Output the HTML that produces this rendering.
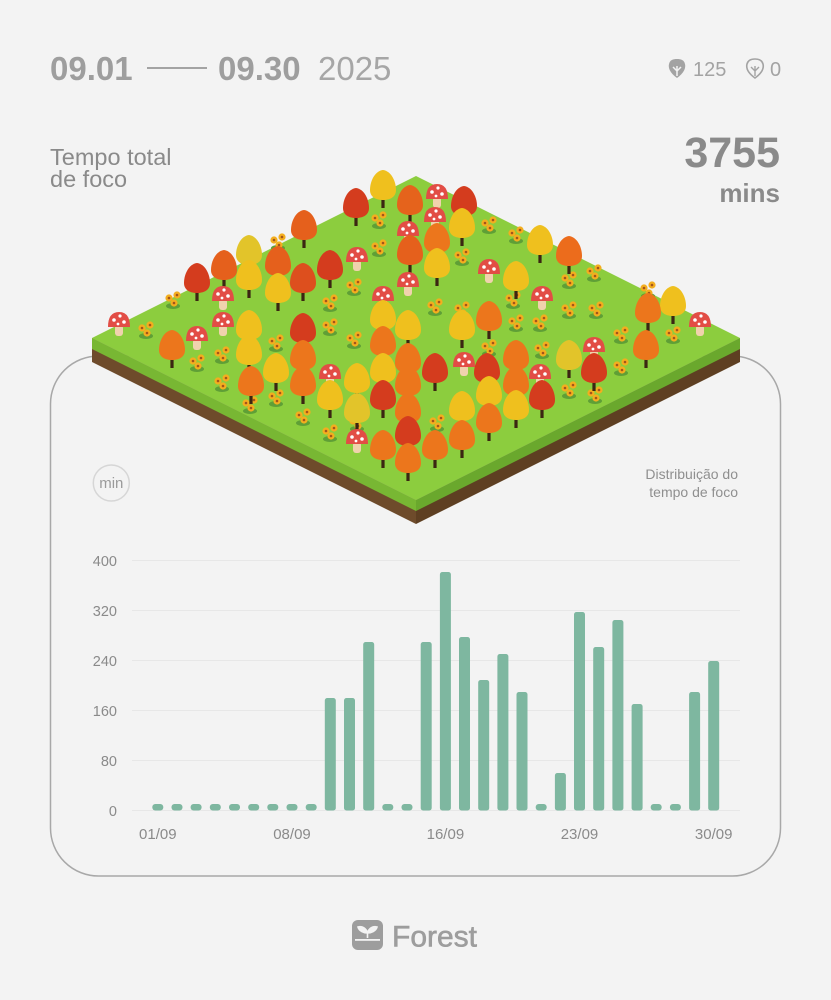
<!DOCTYPE html>
<html>
<head>
<meta charset="utf-8">
<style>
  html,body{margin:0;padding:0;background:#f3f3f3;}
  body{width:831px;height:1000px;overflow:hidden;}
  svg{display:block;font-family:"Liberation Sans", sans-serif;}
</style>
</head>
<body>
<svg width="831" height="1000" viewBox="0 0 831 1000" xmlns="http://www.w3.org/2000/svg">
  <defs>
    <g id="t">
      <rect x="-1.6" y="6" width="3.2" height="15" fill="#3b2612"/>
      <path d="M0,-17 C8,-16 13,-6 13,3 C13,10 7,13 0,13 C-7,13 -13,10 -13,3 C-13,-6 -8,-16 0,-17Z" fill="currentColor"/>
    </g>
    <g id="m">
      <rect x="-4" y="2" width="8" height="11" rx="3" fill="#f0d2ad"/>
      <path d="M-11,4 Q-11,-11 0,-11 Q11,-11 11,4 Z" fill="#e24d45"/>
      <circle cx="-5" cy="-3" r="1.8" fill="#fff"/>
      <circle cx="1" cy="-7" r="1.6" fill="#fff"/>
      <circle cx="5" cy="-1" r="1.8" fill="#fff"/>
      <circle cx="-1" cy="1" r="1.4" fill="#fff"/>
    </g>
    <g id="s">
      <ellipse cx="0" cy="6" rx="7" ry="3" fill="#5f9f36"/>
      <circle cx="-4" cy="-2" r="3.6" fill="#f3ae1f"/>
      <circle cx="4" cy="-5" r="3.6" fill="#f3ae1f"/>
      <circle cx="1" cy="3" r="3.6" fill="#f3ae1f"/>
      <circle cx="-4" cy="-2" r="1.3" fill="#a4541b"/>
      <circle cx="4" cy="-5" r="1.3" fill="#a4541b"/>
      <circle cx="1" cy="3" r="1.3" fill="#a4541b"/>
    </g>
  </defs>

  <!-- Header -->
  <text x="50" y="80" font-size="33" font-weight="bold" fill="#9e9e9e">09.01</text>
  <line x1="147" y1="68" x2="207" y2="68" stroke="#a3a3a3" stroke-width="2"/>
  <text x="218" y="80" font-size="33" font-weight="bold" fill="#9e9e9e">09.30</text>
  <text x="318" y="80" font-size="33" fill="#a6a6a6">2025</text>

  <!-- icons -->
  <path d="M677,78 C670,73 668,68 669,64 C670,60 673,59 677,59 C681,59 684,60 685,64 C686,68 684,73 677,78Z" fill="#a3a3a3"/>
  <path d="M677,76 L677,66 M677,71 L673,67 M677,71 L681,67" stroke="#f3f3f3" stroke-width="1.5" fill="none"/>
  <text x="693" y="76" font-size="20" fill="#a3a3a3">125</text>
  <path d="M755,78 C748,73 746,68 747,64 C748,60 751,59 755,59 C759,59 762,60 763,64 C764,68 762,73 755,78Z" fill="none" stroke="#a3a3a3" stroke-width="1.6"/>
  <path d="M755,76 L755,66 M755,71 L751,67 M755,71 L759,67" stroke="#a3a3a3" stroke-width="1.4" fill="none"/>
  <text x="770" y="76" font-size="20" fill="#a3a3a3">0</text>

  <text x="50" y="165" font-size="23.5" fill="#8a8a8a">Tempo total</text>
  <text x="50" y="187" font-size="23.5" fill="#8a8a8a">de foco</text>

  <text x="780" y="167" font-size="43" font-weight="bold" fill="#8a8a8a" text-anchor="end">3755</text>
  <text x="780" y="202" font-size="26" font-weight="bold" fill="#8a8a8a" text-anchor="end">mins</text>

  <!-- Card -->
  <rect x="50.5" y="356" width="730" height="520" rx="48" ry="48" fill="none" stroke="#a8a8a8" stroke-width="1.5"/>

  <!-- Island -->
  <polygon points="92,338 416,500 416,524 92,362" fill="#6e4b2b"/>
  <polygon points="416,500 740,338 740,362 416,524" fill="#5e3f22"/>
  <polygon points="92,338 416,500 416,511 92,349" fill="#78b733"/>
  <polygon points="416,500 740,338 740,349 416,511" fill="#6aa82d"/>
  <polygon points="92,338 416,176 740,338 416,500" fill="#8ccd3e"/>

  <!-- sunflowers -->
  <use href="#s" x="379" y="220"/><use href="#s" x="489" y="225"/><use href="#s" x="516" y="235"/>
  <use href="#s" x="379" y="248"/><use href="#s" x="462" y="257"/><use href="#s" x="278" y="242"/>
  <use href="#s" x="173" y="300"/><use href="#s" x="354" y="287"/><use href="#s" x="330" y="303"/>
  <use href="#s" x="569" y="280"/><use href="#s" x="594" y="273"/><use href="#s" x="648" y="290"/>
  <use href="#s" x="621" y="335"/><use href="#s" x="569" y="310"/><use href="#s" x="596" y="310"/>
  <use href="#s" x="435" y="307"/><use href="#s" x="540" y="323"/><use href="#s" x="516" y="323"/>
  <use href="#s" x="354" y="340"/><use href="#s" x="330" y="327"/><use href="#s" x="276" y="343"/>
  <use href="#s" x="197" y="363"/><use href="#s" x="222" y="355"/><use href="#s" x="222" y="383"/>
  <use href="#s" x="276" y="398"/><use href="#s" x="303" y="417"/><use href="#s" x="330" y="433"/>
  <use href="#s" x="357" y="423"/><use href="#s" x="437" y="423"/><use href="#s" x="569" y="390"/>
  <use href="#s" x="542" y="350"/><use href="#s" x="621" y="367"/><use href="#s" x="489" y="348"/>
  <use href="#s" x="462" y="310"/><use href="#s" x="673" y="335"/><use href="#s" x="513" y="300"/>
  <use href="#s" x="146" y="330"/><use href="#s" x="250" y="405"/><use href="#s" x="595" y="395"/>

  <!-- trees & mushrooms (sorted by y) -->
  <g>
    <use href="#t" x="383" y="187" color="#efc01e"/>
    <use href="#m" x="437" y="195"/>
    <use href="#t" x="410" y="202" color="#e5631c"/>
    <use href="#t" x="464" y="203" color="#d43c1e"/>
    <use href="#t" x="356" y="205" color="#d43c1e"/>
    <use href="#m" x="435" y="218"/>
    <use href="#t" x="462" y="225" color="#efc01e"/>
    <use href="#t" x="304" y="227" color="#e5601c"/>
    <use href="#m" x="408" y="232"/>
    <use href="#t" x="437" y="240" color="#ec761c"/>
    <use href="#t" x="540" y="242" color="#efc01e"/>
    <use href="#t" x="410" y="252" color="#e5601c"/>
    <use href="#t" x="249" y="252" color="#e2c42a"/>
    <use href="#t" x="569" y="253" color="#ec6c1c"/>
    <use href="#m" x="357" y="258"/>
    <use href="#t" x="278" y="263" color="#e5601c"/>
    <use href="#t" x="437" y="265" color="#efc01e"/>
    <use href="#t" x="330" y="267" color="#d43c1e"/>
    <use href="#t" x="224" y="267" color="#e5601c"/>
    <use href="#m" x="489" y="270"/>
    <use href="#t" x="249" y="277" color="#efc01e"/>
    <use href="#t" x="516" y="278" color="#efc01e"/>
    <use href="#t" x="197" y="280" color="#d43c1e"/>
    <use href="#t" x="303" y="280" color="#dd4f1e"/>
    <use href="#m" x="408" y="283"/>
    <use href="#t" x="278" y="290" color="#efc01e"/>
    <use href="#m" x="223" y="297"/>
    <use href="#m" x="383" y="297"/>
    <use href="#m" x="542" y="297"/>
    <use href="#t" x="673" y="303" color="#efc01e"/>
    <use href="#t" x="648" y="310" color="#ec761c"/>
    <use href="#t" x="383" y="317" color="#efc01e"/>
    <use href="#t" x="489" y="318" color="#ec761c"/>
    <use href="#m" x="119" y="323"/>
    <use href="#m" x="700" y="323"/>
    <use href="#m" x="223" y="323"/>
    <use href="#t" x="249" y="327" color="#efc01e"/>
    <use href="#t" x="408" y="327" color="#efc01e"/>
    <use href="#t" x="462" y="327" color="#efc01e"/>
    <use href="#t" x="303" y="330" color="#d43c1e"/>
    <use href="#m" x="197" y="337"/>
    <use href="#t" x="383" y="343" color="#ec761c"/>
    <use href="#t" x="172" y="347" color="#ec761c"/>
    <use href="#t" x="646" y="347" color="#ec761c"/>
    <use href="#m" x="594" y="348"/>
    <use href="#t" x="249" y="352" color="#efc01e"/>
    <use href="#t" x="303" y="357" color="#ec761c"/>
    <use href="#t" x="516" y="357" color="#ec761c"/>
    <use href="#t" x="569" y="357" color="#e2c42a"/>
    <use href="#t" x="408" y="360" color="#ec761c"/>
    <use href="#m" x="464" y="363"/>
    <use href="#t" x="487" y="370" color="#d43c1e"/>
    <use href="#t" x="435" y="370" color="#d43c1e"/>
    <use href="#t" x="594" y="370" color="#d43c1e"/>
    <use href="#t" x="276" y="370" color="#efc01e"/>
    <use href="#t" x="383" y="370" color="#efc01e"/>
    <use href="#m" x="330" y="375"/>
    <use href="#m" x="540" y="375"/>
    <use href="#t" x="357" y="380" color="#efc01e"/>
    <use href="#t" x="251" y="383" color="#ec761c"/>
    <use href="#t" x="303" y="383" color="#ec761c"/>
    <use href="#t" x="408" y="383" color="#ec761c"/>
    <use href="#t" x="516" y="383" color="#ec761c"/>
    <use href="#t" x="489" y="393" color="#efc01e"/>
    <use href="#t" x="542" y="397" color="#d43c1e"/>
    <use href="#t" x="330" y="397" color="#efc01e"/>
    <use href="#t" x="383" y="397" color="#d43c1e"/>
    <use href="#t" x="516" y="407" color="#efc01e"/>
    <use href="#t" x="462" y="408" color="#efc01e"/>
    <use href="#t" x="357" y="410" color="#e2c42a"/>
    <use href="#t" x="408" y="410" color="#ec761c"/>
    <use href="#t" x="489" y="420" color="#ec761c"/>
    <use href="#t" x="408" y="433" color="#d43c1e"/>
    <use href="#t" x="462" y="437" color="#ec761c"/>
    <use href="#m" x="357" y="440"/>
    <use href="#t" x="383" y="447" color="#ec761c"/>
    <use href="#t" x="435" y="447" color="#ec761c"/>
    <use href="#t" x="408" y="460" color="#ec761c"/>
  </g>

  <!-- min badge & legend -->
  <circle cx="111.3" cy="483" r="18" fill="none" stroke="#d6d6d6" stroke-width="1.5"/>
  <text x="111.3" y="488" font-size="15" fill="#9a9a9a" text-anchor="middle">min</text>
  <text x="738" y="479" font-size="14" fill="#8f8f8f" text-anchor="end">Distribuição do</text>
  <text x="738" y="497" font-size="14" fill="#8f8f8f" text-anchor="end">tempo de foco</text>

  <!-- Grid -->
  <g stroke="#e7e7e7" stroke-width="1">
    <line x1="132" y1="560.5" x2="740" y2="560.5"/>
    <line x1="132" y1="610.5" x2="740" y2="610.5"/>
    <line x1="132" y1="660.5" x2="740" y2="660.5"/>
    <line x1="132" y1="710.5" x2="740" y2="710.5"/>
    <line x1="132" y1="760.5" x2="740" y2="760.5"/>
    <line x1="132" y1="810.5" x2="740" y2="810.5"/>
  </g>
  <g font-size="14.5" fill="#8a8a8a" text-anchor="end">
    <text x="117" y="566">400</text>
    <text x="117" y="616">320</text>
    <text x="117" y="666">240</text>
    <text x="117" y="716">160</text>
    <text x="117" y="766">80</text>
    <text x="117" y="816">0</text>
  </g>

  <!-- Bars -->
  <g fill="#7eb7a0">
    <rect x="152.3" y="804" width="11" height="6.5" rx="3"/>
    <rect x="171.5" y="804" width="11" height="6.5" rx="3"/>
    <rect x="190.6" y="804" width="11" height="6.5" rx="3"/>
    <rect x="209.8" y="804" width="11" height="6.5" rx="3"/>
    <rect x="229.0" y="804" width="11" height="6.5" rx="3"/>
    <rect x="248.2" y="804" width="11" height="6.5" rx="3"/>
    <rect x="267.3" y="804" width="11" height="6.5" rx="3"/>
    <rect x="286.5" y="804" width="11" height="6.5" rx="3"/>
    <rect x="305.7" y="804" width="11" height="6.5" rx="3"/>
    <rect x="324.8" y="698" width="11" height="112.5" rx="2.5"/>
    <rect x="344.0" y="698" width="11" height="112.5" rx="2.5"/>
    <rect x="363.2" y="642" width="11" height="168.5" rx="2.5"/>
    <rect x="382.3" y="804" width="11" height="6.5" rx="3"/>
    <rect x="401.5" y="804" width="11" height="6.5" rx="3"/>
    <rect x="420.7" y="642" width="11" height="168.5" rx="2.5"/>
    <rect x="439.9" y="572" width="11" height="238.5" rx="2.5"/>
    <rect x="459.0" y="637" width="11" height="173.5" rx="2.5"/>
    <rect x="478.2" y="680" width="11" height="130.5" rx="2.5"/>
    <rect x="497.4" y="654" width="11" height="156.5" rx="2.5"/>
    <rect x="516.5" y="692" width="11" height="118.5" rx="2.5"/>
    <rect x="535.7" y="804" width="11" height="6.5" rx="3"/>
    <rect x="554.9" y="773" width="11" height="37.5" rx="2.5"/>
    <rect x="574.0" y="612" width="11" height="198.5" rx="2.5"/>
    <rect x="593.2" y="647" width="11" height="163.5" rx="2.5"/>
    <rect x="612.4" y="620" width="11" height="190.5" rx="2.5"/>
    <rect x="631.6" y="704" width="11" height="106.5" rx="2.5"/>
    <rect x="650.7" y="804" width="11" height="6.5" rx="3"/>
    <rect x="669.9" y="804" width="11" height="6.5" rx="3"/>
    <rect x="689.1" y="692" width="11" height="118.5" rx="2.5"/>
    <rect x="708.2" y="661" width="11" height="149.5" rx="2.5"/>
  </g>

  <!-- X labels -->
  <g font-size="15" fill="#8a8a8a" text-anchor="middle">
    <text x="157.8" y="839">01/09</text>
    <text x="292.0" y="839">08/09</text>
    <text x="445.4" y="839">16/09</text>
    <text x="579.5" y="839">23/09</text>
    <text x="713.7" y="839">30/09</text>
  </g>

  <!-- Footer logo -->
  <rect x="352" y="920" width="31" height="30" rx="6" fill="#9d9d9d"/>
  <rect x="355" y="939" width="25" height="1.8" fill="#f3f3f3"/>
  <path d="M367.5,938 L367.5,932 M367.5,933 C364,933 359,931 358,927 C362,926 366,928 367.5,933 M367.5,933 C371,933 376,931 377,927 C373,926 369,928 367.5,933" stroke="#f3f3f3" stroke-width="1.6" fill="#f3f3f3"/>
  <text x="392" y="946.5" font-size="30" fill="#9d9d9d" stroke="#9d9d9d" stroke-width="0.6">Forest</text>
</svg>
</body>
</html>
